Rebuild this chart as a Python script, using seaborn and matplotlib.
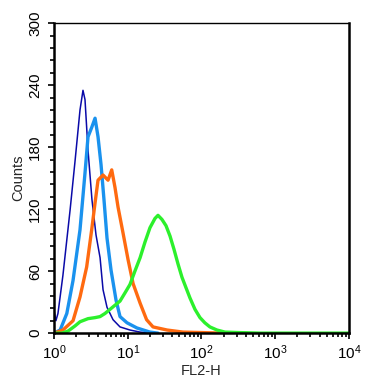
import numpy as np
import pandas as pd
import seaborn as sns
import matplotlib.pyplot as plt
from matplotlib.ticker import MultipleLocator, LogLocator, NullFormatter

# histogram traces (FL2-H intensity, counts)
navy_x = [1.00, 1.06, 1.13, 1.32, 1.65, 1.93, 2.25, 2.47, 2.63, 2.89, 3.27,
          3.71, 4.21, 4.62, 5.23, 6.31, 7.85, 10.7, 14.7, 20.0]
navy_y = [22, 12, 19, 56, 119, 167, 216, 235, 226, 177, 129,
          95, 73, 42, 25, 13, 6, 3, 1, 0]

blue_x = [1.00, 1.21, 1.49, 1.81, 2.25, 2.63, 2.89, 3.24, 3.60, 3.95, 4.34,
          4.76, 5.23, 5.93, 6.93, 7.85, 9.77, 13.3, 20.0, 25.7]
blue_y = [0, 3, 19, 51, 100, 155, 190, 199, 208, 190, 163,
          129, 92, 61, 32, 16, 10, 5, 1, 0]

orange_x = [1.00, 1.32, 1.81, 2.25, 2.77, 3.24, 3.60, 3.95, 4.62, 5.40, 6.06,
            6.71, 7.38, 8.62, 10.1, 11.8, 14.7, 18.0, 22.0, 34.1, 56.0, 196]
orange_y = [0, 3, 12, 35, 64, 100, 126, 148, 153, 148, 158,
            141, 122, 97, 71, 48, 29, 13, 6, 3, 1, 0]

green_x = [1.00, 1.28, 1.55, 1.93, 2.25, 2.89, 3.60, 4.21, 4.91, 5.74, 6.71,
           7.85, 9.18, 10.7, 12.5, 14.7, 17.1, 20.0, 23.4, 25.7, 29.1, 33.0,
           37.4, 42.4, 48.0, 54.4, 61.6, 69.8, 81.6, 95.4, 111, 130, 162,
           208, 333, 621, 10000]
green_y = [0, 0, 2, 7, 11, 14, 15, 16, 19, 23, 27,
           31, 39, 47, 60, 73, 88, 102, 111, 114, 110, 104,
           94, 81, 67, 54, 44, 34, 23, 15, 10, 6, 3,
           1, 0.5, 0, 0]

traces = [
    (navy_x, navy_y, "#0a0aa8", 1.1),
    (blue_x, blue_y, "#1a92ee", 2.4),
    (orange_x, orange_y, "#ff6a10", 2.4),
    (green_x, green_y, "#2cf02c", 2.4),
]

sns.set_style("ticks", {"xtick.top": False, "ytick.right": False})
plt.rcParams['font.family'] = ['Liberation Sans', 'DejaVu Sans']
plt.rcParams['mathtext.default'] = 'regular'

fig = plt.figure(figsize=(3.86, 3.86), dpi=100)
ax = fig.add_axes([0.140, 0.137, 0.764, 0.803])

for xs, ys, col, lw in traces:
    df = pd.DataFrame({"FL2-H": xs, "Counts": ys})
    sns.lineplot(data=df, x="FL2-H", y="Counts", color=col, linewidth=lw,
                 ax=ax, sort=False, estimator=None)

ax.set_xscale("log")
ax.set_xlim(1, 1e4)
ax.set_ylim(0, 300)

ax.yaxis.set_major_locator(MultipleLocator(60))
ax.yaxis.set_minor_locator(MultipleLocator(12))
ax.xaxis.set_major_locator(LogLocator(base=10, numticks=10))
ax.xaxis.set_minor_locator(LogLocator(base=10, subs=np.arange(2, 10), numticks=50))
ax.xaxis.set_minor_formatter(NullFormatter())
ax.yaxis.set_ticks_position("left")
ax.xaxis.set_ticks_position("bottom")

for lab in ax.get_yticklabels():
    lab.set_rotation(90)
    lab.set_va("center")

ax.tick_params(axis="both", which="major", length=4.5, width=1.2,
               labelsize=11, color="black", labelcolor="black", direction="out")
ax.tick_params(axis="both", which="minor", length=3, width=1.2,
               color="black", direction="out")
ax.tick_params(axis="y", pad=4)
ax.tick_params(axis="x", pad=3)

for side in ["left", "bottom", "right"]:
    ax.spines[side].set_linewidth(1.8)
    ax.spines[side].set_color("black")
ax.spines["top"].set_linewidth(1.0)
ax.spines["top"].set_color("black")

ax.set_xlabel("FL2-H", fontsize=10.5, labelpad=1)
ax.set_ylabel("Counts", fontsize=10.5, labelpad=2)

fig.savefig("out.png", dpi=100)
